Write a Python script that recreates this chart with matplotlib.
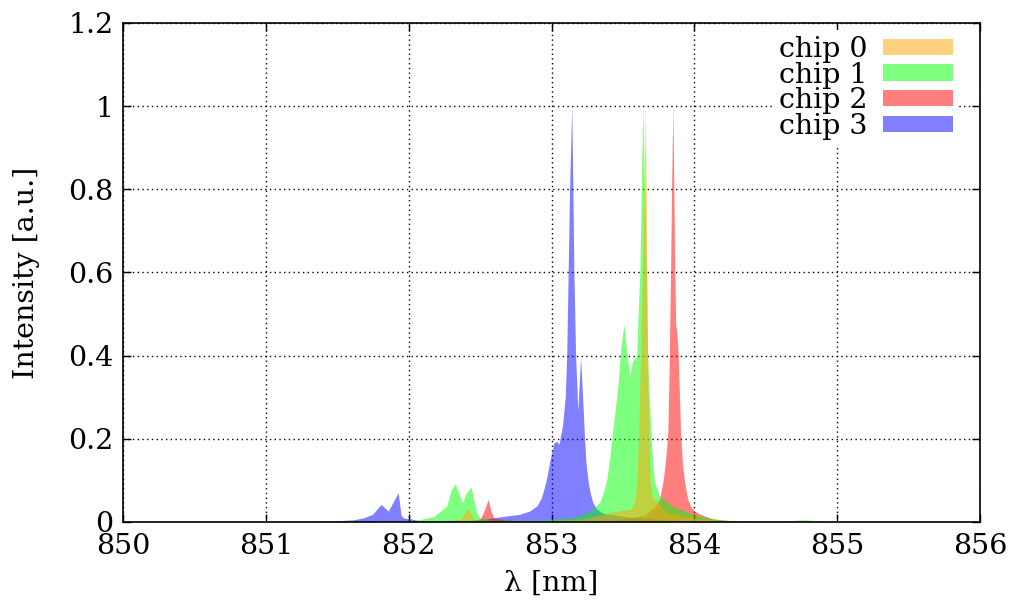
import matplotlib
matplotlib.use("Agg")
import matplotlib.pyplot as plt
from matplotlib.patches import Patch

plt.rcParams["font.family"] = ["DejaVu Serif"]
plt.rcParams["mathtext.fontset"] = "dejavuserif"

labels = ["chip 0", "chip 1", "chip 2", "chip 3"]
colors = ["#ffa500", "#00ff00", "#ff0000", "#0000ff"]

# chip 0 spectrum
wl0 = [852.22, 852.32, 852.37, 852.39, 852.42, 852.44, 852.46, 852.57, 852.92,
       853.08, 853.22, 853.34, 853.43, 853.50, 853.56, 853.59, 853.603, 853.613,
       853.627, 853.641, 853.651, 853.660, 853.667, 853.672, 853.678, 853.686,
       853.693, 853.709, 853.74, 853.81, 853.92, 854.04, 854.18, 854.39]
int0 = [0.0, 0.002, 0.006, 0.018, 0.031, 0.018, 0.004, 0.001, 0.001,
        0.003, 0.006, 0.015, 0.022, 0.027, 0.030, 0.05, 0.11, 0.2,
        0.4, 0.6, 0.8, 1.0, 0.8, 0.6, 0.35, 0.2,
        0.1, 0.058, 0.05, 0.021, 0.013, 0.006, 0.003, 0.0]

# chip 1 spectrum
wl1 = [851.94, 852.06, 852.18, 852.27, 852.30, 852.33, 852.35, 852.38, 852.40,
       852.44, 852.46, 852.48, 852.50, 852.60, 852.92, 853.13, 853.20, 853.27,
       853.30, 853.34, 853.365, 853.39, 853.41, 853.43, 853.45, 853.47, 853.49,
       853.51, 853.53, 853.55, 853.57, 853.60, 853.61, 853.622, 853.632,
       853.643, 853.655, 853.667, 853.676, 853.688, 853.70, 853.712, 853.725,
       853.76, 853.85, 853.97, 854.07, 854.21, 854.46, 854.67, 854.76,
       854.85, 854.95]
int1 = [0.0, 0.003, 0.012, 0.037, 0.075, 0.091, 0.07, 0.045, 0.065,
        0.083, 0.05, 0.021, 0.008, 0.003, 0.003, 0.008, 0.013, 0.025,
        0.033, 0.045, 0.068, 0.10, 0.15, 0.213, 0.27, 0.334, 0.42,
        0.474, 0.41, 0.349, 0.385, 0.397, 0.5, 0.6, 0.8,
        1.0, 0.8, 0.6, 0.4, 0.3, 0.213, 0.14, 0.094,
        0.061, 0.037, 0.02, 0.01, 0.003, 0.001, 0.002, 0.004,
        0.002, 0.0]

# chip 2 spectrum
wl2 = [852.43, 852.49, 852.51, 852.53, 852.56, 852.58, 852.60, 852.67, 852.78,
       853.20, 853.48, 853.655, 853.725, 853.76, 853.783, 853.80, 853.818,
       853.826, 853.837, 853.844, 853.853, 853.860, 853.867, 853.873, 853.880,
       853.891, 853.907, 853.92, 853.935, 853.958, 853.98, 854.005, 854.04,
       854.13, 854.25, 854.46]
int2 = [0.0, 0.003, 0.01, 0.025, 0.053, 0.025, 0.008, 0.004, 0.001,
        0.001, 0.005, 0.015, 0.035, 0.053, 0.094, 0.14, 0.213,
        0.35, 0.6, 0.8, 1.0, 0.8, 0.6, 0.47, 0.46,
        0.4, 0.213, 0.14, 0.094, 0.053, 0.035, 0.025, 0.018,
        0.006, 0.002, 0.0]

# chip 3 spectrum
wl3 = [851.30, 851.52, 851.62, 851.69, 851.75, 851.81, 851.86, 851.90, 851.93,
       851.95, 851.97, 852.02, 852.08, 852.43, 852.55, 852.62, 852.78, 852.85,
       852.90, 852.93, 852.95, 852.97, 852.99, 853.02, 853.04, 853.055,
       853.08, 853.10, 853.11, 853.12, 853.13, 853.145, 853.153, 853.16,
       853.172, 853.188, 853.207, 853.221, 853.235, 853.245, 853.258, 853.275,
       853.293, 853.32, 853.36, 853.55, 853.76, 854.04]
int3 = [0.0, 0.002, 0.004, 0.009, 0.017, 0.041, 0.025, 0.05, 0.069,
        0.015, 0.008, 0.006, 0.002, 0.003, 0.006, 0.01, 0.017, 0.025,
        0.037, 0.055, 0.077, 0.105, 0.142, 0.189, 0.193, 0.185,
        0.229, 0.30, 0.40, 0.6, 0.8, 1.0, 0.8, 0.6,
        0.40, 0.265, 0.396, 0.3, 0.197, 0.14, 0.10, 0.068,
        0.045, 0.03, 0.02, 0.01, 0.005, 0.0]

xticks = [850, 851, 852, 853, 854, 855, 856]
yticks = [0, 0.2, 0.4, 0.6, 0.8, 1.0, 1.2]
yticklabels = ["0", "0.2", "0.4", "0.6", "0.8", "1", "1.2"]

spectra = [(wl0, int0), (wl1, int1), (wl2, int2), (wl3, int3)]

FS = 20.5

fig = plt.figure(figsize=(10.17, 6.02), dpi=100)
ax = fig.add_axes([0.121, 0.133, 0.8426, 0.829])

# draw the last chip first so that chip 0 ends up on top
for i in reversed(range(len(spectra))):
    wl, inten = spectra[i]
    ax.fill_between(wl, 0, inten, facecolor=colors[i], alpha=0.5,
                    linewidth=0, zorder=2 + (len(spectra) - i))

ax.set_xlim(850, 856)
ax.set_ylim(0, 1.2)
ax.set_xticks(xticks)
ax.set_xticklabels([str(t) for t in xticks])
ax.set_yticks(yticks)
ax.set_yticklabels(yticklabels)

ax.grid(True, color="black", linewidth=1.0, linestyle=(0, (1, 2.4)), zorder=10)
ax.set_axisbelow(False)

ax.tick_params(direction="in", top=True, right=True, length=6, width=1,
               labelsize=FS, colors="black")
ax.tick_params(axis="x", pad=8)
ax.tick_params(axis="y", pad=7)
for sp in ax.spines.values():
    sp.set_linewidth(1.2)
    sp.set_zorder(12)

ax.set_xlabel("λ [nm]", fontsize=FS, labelpad=7)
ax.set_ylabel("Intensity [a.u.]", fontsize=FS, labelpad=20)

handles = [Patch(facecolor=c, alpha=0.5, edgecolor="none") for c in colors]
leg = ax.legend(handles, labels, loc="upper right", bbox_to_anchor=(0.975, 0.985),
                fontsize=FS, markerfirst=False, frameon=True, framealpha=1.0,
                facecolor="white", edgecolor="none", fancybox=False,
                handlelength=2.45, handleheight=0.5, handletextpad=0.55,
                labelspacing=-0.05, borderpad=0.2, borderaxespad=0.0)
leg.set_zorder(20)

fig.savefig("out.png", dpi=100)
